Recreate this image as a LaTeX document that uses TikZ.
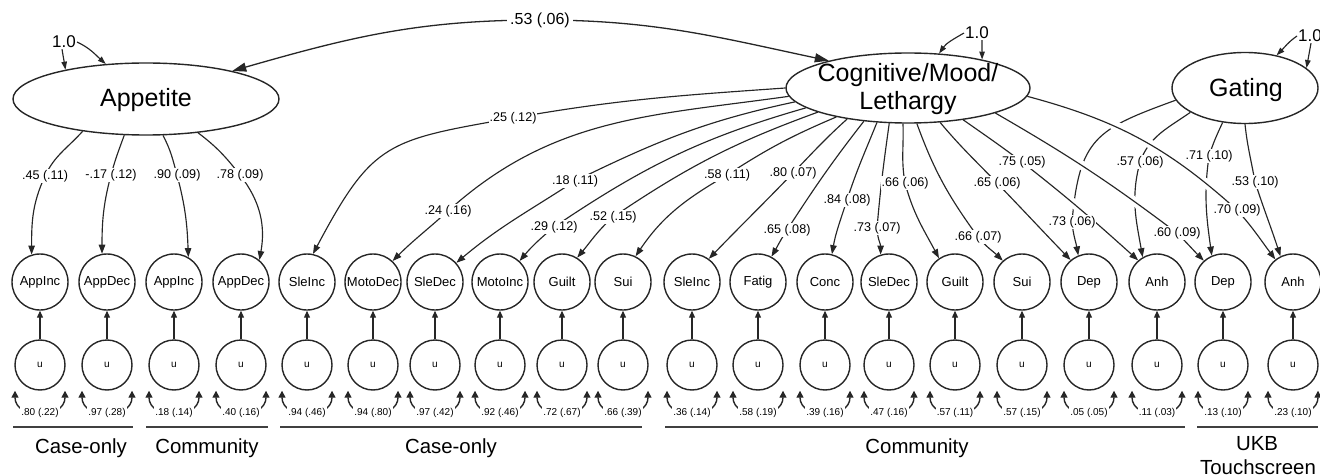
\documentclass[tikz,border=0pt]{standalone}
\usepackage{fontspec}
\setmainfont{Liberation Sans}
\usetikzlibrary{arrows.meta,shapes.geometric,calc}
\begin{document}
\begin{tikzpicture}[x=1pt,y=1pt,line join=round,
  lat/.style={ellipse,draw=black!85,line width=1.4pt,inner sep=0pt,font=\fontsize{25}{28}\selectfont},
  lattext/.style={inner sep=0pt,align=center,font=\fontsize{25}{28}\selectfont},
  ind/.style={circle,draw=black!85,line width=1.4pt,minimum size=56pt,inner sep=0pt,font=\fontsize{13}{15}\selectfont},
  uu/.style={circle,draw=black!85,line width=1.4pt,minimum size=50pt,inner sep=0pt,font=\fontsize{10}{12}\selectfont},
  ld/.style={draw=black!85,line width=1.15pt,arrows={-Triangle[length=9pt,width=6.5pt]}},
  vld/.style={draw=black!85,line width=1.15pt,arrows={-Triangle[length=8pt,width=5.5pt]}},
  uparr/.style={draw=black!85,line width=1.15pt,arrows={-Triangle[length=7pt,width=6pt]}},
  resarr/.style={draw=black!85,line width=1.4pt,arrows={Triangle[length=7pt,width=7pt]-Triangle[length=7pt,width=7pt]}},
  cov/.style={draw=black!85,line width=1.3pt,arrows={Triangle[length=14pt,width=9pt]-Triangle[length=14pt,width=9pt]}},
  lab/.style={fill=white,inner sep=1pt,font=\fontsize{12.6}{14}\selectfont},
  reslab/.style={fill=white,inner sep=1pt,font=\fontsize{10}{12}\selectfont},
  vlab/.style={inner sep=1pt,font=\fontsize{17}{19}\selectfont},
  grp/.style={anchor=base,inner sep=0pt,font=\fontsize{20.4}{24}\selectfont},
  grule/.style={line width=1.5pt,draw=black!75},
  halo/.style={preaction={draw=white,line width=9pt,shorten <=20pt,shorten >=20pt,arrows=-}},
]
\useasboundingbox (0,0) rectangle (1320,-476);

% latent factors
\node[lat,minimum width=266pt,minimum height=72pt] (app) at (146,-99) {};
\node[lattext] (appt) at (146,-100) {Appetite};
\node[lat,minimum width=244pt,minimum height=70pt] (cog) at (908,-88) {};
\node[lattext] (cogt) at (908,-89) {Cognitive/Mood/\\Lethargy};
\node[lat,minimum width=146pt,minimum height=71pt] (gat) at (1245,-88) {};
\node[lattext] (gatt) at (1246,-90) {Gating};

% indicators, uniquenesses, residual variances
\foreach \nm/\xx/\tx/\rv in {
  a1/40/AppInc/{.80 (.22)}, a2/107/AppDec/{.97 (.28)},
  a3/174/AppInc/{.18 (.14)}, a4/241/AppDec/{.40 (.16)},
  c1/307/SleInc/{.94 (.46)}, c2/373/MotoDec/{.94 (.80)},
  c3/435/SleDec/{.97 (.42)}, c4/500/MotoInc/{.92 (.46)},
  c5/562/Guilt/{.72 (.67)}, c6/623/Sui/{.66 (.39)},
  m1/692/SleInc/{.36 (.14)}, m2/758/Fatig/{.58 (.19)},
  m3/825/Conc/{.39 (.16)}, m4/889/SleDec/{.47 (.16)},
  m5/955/Guilt/{.57 (.11)}, m6/1022/Sui/{.57 (.15)},
  m7/1089/Dep/{.05 (.05)}, m8/1157/Anh/{.11 (.03)},
  k1/1223/Dep/{.13 (.10)}, k2/1293/Anh/{.23 (.10)}}{
  \node[ind] (\nm) at (\xx,-282) {\tx};
  \node[uu] (u\nm) at (\xx,-365) {u};
  \draw[uparr] (u\nm) -- (\nm);
  \draw[resarr] ([xshift=-25pt]u\nm.south) to[out=-90,in=-90,looseness=1.5] node[reslab]{\rv} ([xshift=25pt]u\nm.south);
}

% label positions
\coordinate (La1) at (45,-176);
\coordinate (La2) at (111,-175);
\coordinate (La3) at (177,-175);
\coordinate (La4) at (240,-175);
\coordinate (L53) at (540,-20);
\coordinate (Lc1) at (513,-118);
\coordinate (Lc2) at (448,-211);
\coordinate (Lc3) at (575,-181);
\coordinate (Lc4) at (554,-227);
\coordinate (Lc5) at (613,-217);
\coordinate (Lc6) at (727,-175);
\coordinate (Lm1) at (793,-173);
\coordinate (Lm2) at (787,-230);
\coordinate (Lm3) at (847,-200);
\coordinate (Lm4) at (877,-228);
\coordinate (Lm5) at (905,-183);
\coordinate (Lm6) at (978,-237);
\coordinate (Lm7) at (997,-183);
\coordinate (Lm8) at (1022,-162);
\coordinate (Lk1) at (1177,-233);
\coordinate (Lk2) at (1237,-210);
\coordinate (Lg1) at (1072,-222);
\coordinate (Lg2) at (1140,-162);
\coordinate (Lg3) at (1209,-156);
\coordinate (Lg4) at (1255,-182);

% Gating loadings (drawn first, interrupted by crossing lines)
\draw[ld] (gat.190) to[out=200,in=85,looseness=1.35] (Lg1) to[out=-85,in=100] (m7.112);
\draw[ld] (gat.204) to[out=215,in=70] (Lg2) to[out=255,in=100] (m8.120);
\draw[ld] (gat.237) to[out=245,in=72] (Lg3) to[out=262,in=98] (k1.113);
\draw[ld] (gat.270) to[out=-84,in=100] (Lg4) to[out=-72,in=108] (k2.116);

% Cognitive/Mood/Lethargy loadings
\draw[ld] (cog.180) to[out=184,in=10] (Lc1) to[out=190,in=62,looseness=1.35] (c1.78);
\draw[ld] (cog.184) to[out=188,in=42] (Lc2) to[out=222,in=45] (c2.47);
\draw[ld] (cog.187) to[out=192,in=26] (Lc3) to[out=213,in=40] (c3.42);
\draw[ld] (cog.191) to[out=196,in=34] (Lc4) to[out=220,in=50] (c4.47);
\draw[ld] (cog.195) to[out=200,in=34] (Lc5) to[out=222,in=50] (c5.58);
\draw[ld] (cog.202) to[out=203,in=33] (Lc6) to[out=210,in=56] (c6.64);
\draw[ld] (cog.207) to[out=222,in=46] (Lm1) to[out=226,in=46] (m1.54);
\draw[ld] (cog.217) to[out=232,in=57] (Lm2) to[out=237,in=60] (m2.62);
\draw[ld] (cog.228) to[out=248,in=72] (Lm3) to[out=252,in=80] (m3.76);
\draw[ld] (cog.242) to[out=262,in=85] (Lm4) to[out=272,in=90] (m4.107);
\draw[ld] (cog.262) to[out=-88,in=100] (Lm5) to[out=-75,in=118] (m5.124);
\draw[ld] (cog.284) to[out=-70,in=126] (Lm6) to[out=-50,in=136] (m6.132);
\draw[ld] (cog.313) to[out=-50,in=134] (Lm7) to[out=-46,in=134] (m7.130);
\draw[ld,halo] (cog.330) to[out=-35,in=143] (Lm8) to[out=-38,in=138] (m8.131);
\draw[ld,halo] (cog.344) to[out=-30,in=143] (Lk1) to[out=-45,in=135] (k1.132);
\draw[ld,halo] (cog.356) to[out=-15,in=138] (Lk2) to[out=-48,in=127] (k2.128);

% Appetite loadings
\draw[ld] (app.207) to[out=228,in=65] (La1) to[out=245,in=90] (a1.107);
\draw[ld] (app.239) to[out=250,in=75] (La2) to[out=255,in=90] (a2.100);
\draw[ld] (app.295) to[out=-62,in=105] (La3) to[out=-75,in=92] (a3.60);
\draw[ld] (app.327) to[out=-37,in=128] (La4) to[out=-52,in=80] (a4.50);

% factor covariance
\draw[cov] (app.18) to[out=16,in=180] (L53) to[out=0,in=168] (cog.161);

% factor variances
\node[vlab] (va) at (64,-42) {1.0};
\draw[vld] ([xshift=-2pt]va.south) -- (app.160);
\draw[vld] (va.east) to[out=-25,in=138] (app.139);
\node[vlab] (vc) at (977,-33) {1.0};
\draw[vld] (vc.west) to[out=210,in=55] (cog.48);
\draw[vld] ([xshift=5pt]vc.south) -- (cog.21);
\node[vlab] (vg) at (1310,-36) {1.0};
\draw[vld] (vg.west) to[out=215,in=45] (gat.46);
\draw[vld] ([xshift=1pt]vg.south) -- (gat.18);

% loading labels
\node[lab] (ta1) at (La1) {.45 (.11)};
\node[lab] (ta2) at (La2) {-.17 (.12)};
\node[lab] (ta3) at (La3) {.90 (.09)};
\node[lab] (ta4) at (La4) {.78 (.09)};
\node[lab,inner sep=3pt,font=\fontsize{16}{18}\selectfont] (t53) at (L53) {.53 (.06)};
\node[lab] (tc1) at (Lc1) {.25 (.12)};
\node[lab] (tc2) at (Lc2) {.24 (.16)};
\node[lab] (tc3) at (Lc3) {.18 (.11)};
\node[lab] (tc4) at (Lc4) {.29 (.12)};
\node[lab] (tc5) at (Lc5) {.52 (.15)};
\node[lab] (tc6) at (Lc6) {.58 (.11)};
\node[lab] (tm1) at (Lm1) {.80 (.07)};
\node[lab] (tm2) at (Lm2) {.65 (.08)};
\node[lab] (tm3) at (Lm3) {.84 (.08)};
\node[lab] (tm4) at (Lm4) {.73 (.07)};
\node[lab] (tm5) at (Lm5) {.66 (.06)};
\node[lab] (tm6) at (Lm6) {.66 (.07)};
\node[lab] (tm7) at (Lm7) {.65 (.06)};
\node[lab] (tm8) at (Lm8) {.75 (.05)};
\node[lab] (tk1) at (Lk1) {.60 (.09)};
\node[lab] (tk2) at (Lk2) {.70 (.09)};
\node[lab] (tg1) at (Lg1) {.73 (.06)};
\node[lab] (tg2) at (Lg2) {.57 (.06)};
\node[lab] (tg3) at (Lg3) {.71 (.10)};
\node[lab] (tg4) at (Lg4) {.53 (.10)};

% group rules and names
\draw[grule] (13,-427) -- (133,-427);
\draw[grule] (146,-427) -- (268,-427);
\draw[grule] (280,-427) -- (642,-427);
\draw[grule] (665,-427) -- (1185,-427);
\draw[grule] (1197,-427) -- (1318,-427);
\node[grp] (g1) at (81,-453) {Case-only};
\node[grp] (g2) at (207,-453) {Community};
\node[grp] (g3) at (451,-453) {Case-only};
\node[grp] (g4) at (917,-453) {Community};
\node[grp] (g5) at (1257,-450) {UKB};
\node[grp] (g6) at (1258,-474) {Touchscreen};
\end{tikzpicture}
\end{document}
